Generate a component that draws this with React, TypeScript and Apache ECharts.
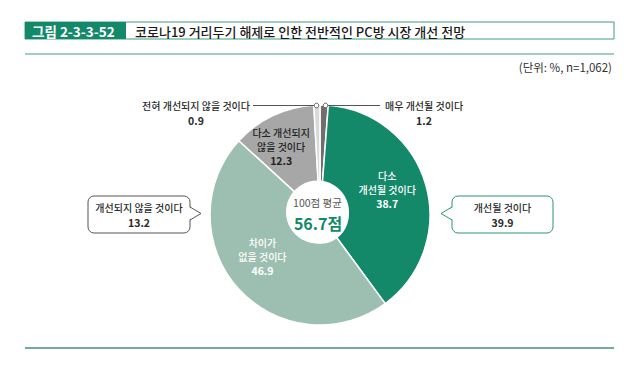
import React, { useEffect, useRef } from 'react';
import * as echarts from 'echarts';

const FONT = '"Noto Sans CJK KR", "Noto Sans", sans-serif';

const figureNo = '그림 2-3-3-52';
const titleText = '코로나19 거리두기 해제로 인한 전반적인 PC방 시장 개선 전망';
const unitText = '(단위: %, n=1,062)';

const categories = [
  '매우 개선될 것이다',
  '다소 개선될 것이다',
  '차이가 없을 것이다',
  '다소 개선되지 않을 것이다',
  '전혀 개선되지 않을 것이다',
];
const sliceLabels = ['', '다소\n개선될 것이다', '차이가\n없을 것이다', '다소 개선되지\n않을 것이다', ''];
const values = [1.2, 38.7, 46.9, 12.3, 0.9];
const colors = ['#6f6f6f', '#13896a', '#9dbfb1', '#a7a7a7', '#d9d9d9'];
const labelColors = ['#222', '#ffffff', '#ffffff', '#222', '#222'];

const groupLabels = ['개선될 것이다', '개선되지 않을 것이다'];
const groupValues = [39.9, 13.2];

const averageLabel = '100점 평균';
const averageValue = 56.7;

const GREEN = '#13896a';

// small nudges for the inside labels (dx, dy)
const labelNudges: [number, number][] = [[0, 0], [-2, -6], [-4, -7], [-8, -3], [0, 0]];

export default function App() {
  const ref = useRef<HTMLDivElement>(null);

  useEffect(() => {
    if (!ref.current) return;
    const chart = echarts.init(ref.current, null, { renderer: 'svg' });

    const textStyle = (o: any) => ({ fontFamily: FONT, fontSize: 10, fontWeight: 500, fill: '#2a2a2a', ...o });

    const option: any = {
      animation: false,
      backgroundColor: '#ffffff',
      series: [
        {
          type: 'pie',
          silent: true,
          z: 2,
          startAngle: 90,
          clockwise: true,
          center: [320, 215],
          radius: [28, 110],
          itemStyle: { borderColor: '#ffffff', borderWidth: 1.5 },
          labelLine: { show: false },
          emphasis: { disabled: true },
          labelLayout: (p: any) => ({ dx: labelNudges[p.dataIndex][0], dy: labelNudges[p.dataIndex][1] }),
          data: values.map((v, i) => ({
            name: categories[i],
            value: v,
            itemStyle: { color: colors[i] },
            label: {
              show: sliceLabels[i] !== '',
              position: 'inside',
              color: labelColors[i],
              fontFamily: FONT,
              fontSize: 10,
              fontWeight: 500,
              lineHeight: 14,
              formatter: () => `${sliceLabels[i]}\n{b|${v.toFixed(1)}}`,
              rich: {
                b: { fontFamily: FONT, fontSize: 10.5, fontWeight: 'bold', color: labelColors[i], lineHeight: 14 },
              },
            },
          })),
        },
      ],
      graphic: [
        // header
        { type: 'rect', z: 1, shape: { x: 25, y: 22, width: 589, height: 17 }, style: { fill: '#fff', stroke: '#3f9c80', lineWidth: 1 } },
        { type: 'rect', z: 1, shape: { x: 25, y: 22, width: 101, height: 17 }, style: { fill: GREEN } },
        { type: 'text', z: 2, x: 32, y: 31, style: textStyle({ text: figureNo, fill: '#fff', fontSize: 13.5, fontWeight: 'bold', verticalAlign: 'middle' }) },
        { type: 'text', z: 2, x: 135, y: 31, style: textStyle({ text: titleText, fill: '#1a1a1a', fontSize: 13, fontWeight: 500, verticalAlign: 'middle' }) },
        { type: 'line', z: 1, shape: { x1: 25, y1: 54, x2: 614, y2: 54 }, style: { stroke: '#86bdae', lineWidth: 1.5 } },
        { type: 'text', z: 2, x: 612, y: 67, style: textStyle({ text: unitText, fontSize: 11.5, fontWeight: 'normal', fill: '#333', align: 'right', verticalAlign: 'middle' }) },
        { type: 'line', z: 1, shape: { x1: 25, y1: 348, x2: 614, y2: 348 }, style: { stroke: '#6fae9c', lineWidth: 2 } },

        // center
        { type: 'circle', z: 100, shape: { cx: 317.5, cy: 212, r: 31.5 }, style: { fill: '#fff' } },
        { type: 'text', z: 101, x: 317.5, y: 202, style: textStyle({ text: averageLabel, fontSize: 10.5, fontWeight: 'normal', fill: '#555', align: 'center', verticalAlign: 'middle' }) },
        { type: 'text', z: 101, x: 318, y: 223, style: textStyle({ text: `${averageValue}점`, fontSize: 16, fontWeight: 'bold', fill: GREEN, align: 'center', verticalAlign: 'middle' }) },

        // small slice annotations
        { type: 'text', z: 101, x: 250, y: 105.5, style: textStyle({ text: categories[4], align: 'right', verticalAlign: 'middle' }) },
        { type: 'text', z: 101, x: 196, y: 120, style: textStyle({ text: values[4].toFixed(1), fontWeight: 'bold', fontSize: 10.5, align: 'center', verticalAlign: 'middle' }) },
        { type: 'line', z: 101, shape: { x1: 253, y1: 105.5, x2: 314.2, y2: 105.5 }, style: { stroke: '#555', lineWidth: 1 } },
        { type: 'circle', z: 102, shape: { cx: 316.5, cy: 105.5, r: 2.3 }, style: { fill: '#fff', stroke: '#555', lineWidth: 1 } },
        { type: 'circle', z: 102, shape: { cx: 325.5, cy: 105.5, r: 2.3 }, style: { fill: '#fff', stroke: '#555', lineWidth: 1 } },
        { type: 'line', z: 101, shape: { x1: 327.8, y1: 105.5, x2: 380, y2: 105.5 }, style: { stroke: '#555', lineWidth: 1 } },
        { type: 'text', z: 101, x: 385, y: 105.5, style: textStyle({ text: categories[0], align: 'left', verticalAlign: 'middle' }) },
        { type: 'text', z: 101, x: 424, y: 120, style: textStyle({ text: values[0].toFixed(1), fontWeight: 'bold', fontSize: 10.5, align: 'center', verticalAlign: 'middle' }) },

        // left callout
        { type: 'rect', z: 101, shape: { x: 88, y: 196, width: 102, height: 37, r: 6 }, style: { fill: '#fff', stroke: '#555', lineWidth: 1 } },
        { type: 'polygon', z: 102, shape: { points: [[188.5, 207], [201, 213.5], [188.5, 220]] }, style: { fill: '#fff' } },
        { type: 'polyline', z: 103, shape: { points: [[190, 207], [201, 213.5], [190, 220]] }, style: { stroke: '#555', lineWidth: 1, fill: null } },
        { type: 'text', z: 103, x: 139, y: 207.5, style: textStyle({ text: groupLabels[1], align: 'center', verticalAlign: 'middle' }) },
        { type: 'text', z: 103, x: 139, y: 222, style: textStyle({ text: groupValues[1].toFixed(1), fontWeight: 'bold', fontSize: 10.5, align: 'center', verticalAlign: 'middle' }) },

        // right callout
        { type: 'rect', z: 101, shape: { x: 452, y: 196, width: 101, height: 37, r: 6 }, style: { fill: '#fff', stroke: '#2d9373', lineWidth: 1 } },
        { type: 'polygon', z: 102, shape: { points: [[453.5, 207], [441, 213.5], [453.5, 220]] }, style: { fill: '#fff' } },
        { type: 'polyline', z: 103, shape: { points: [[452, 207], [441, 213.5], [452, 220]] }, style: { stroke: '#2d9373', lineWidth: 1, fill: null } },
        { type: 'text', z: 103, x: 502.5, y: 207.5, style: textStyle({ text: groupLabels[0], align: 'center', verticalAlign: 'middle' }) },
        { type: 'text', z: 103, x: 502.5, y: 222, style: textStyle({ text: groupValues[0].toFixed(1), fontWeight: 'bold', fontSize: 10.5, align: 'center', verticalAlign: 'middle' }) },
      ],
    };

    chart.setOption(option);
    return () => chart.dispose();
  }, []);

  return (
    <div
      ref={ref}
      style={{ position: 'fixed', left: 0, top: 0, width: 640, height: 372, background: '#fff' }}
    />
  );
}
